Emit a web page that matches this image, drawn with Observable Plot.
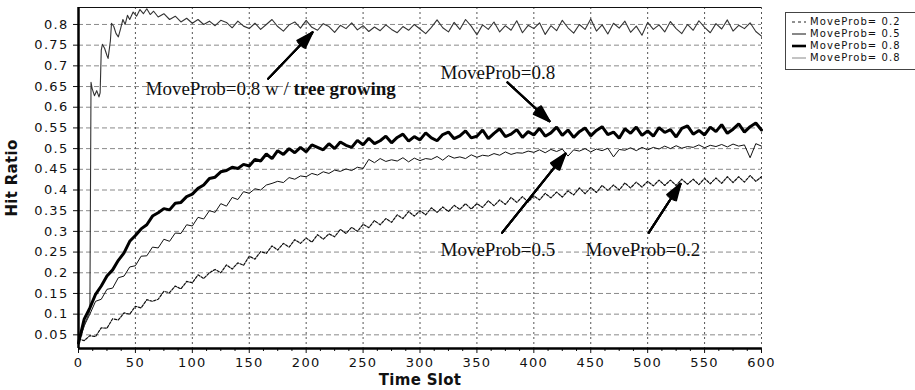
<!DOCTYPE html>
<html><head><meta charset="utf-8">
<script src="https://cdn.jsdelivr.net/npm/d3@7"></script>
<script src="https://cdn.jsdelivr.net/npm/@observablehq/plot@0.6"></script>
<style>
html,body{margin:0;padding:0;background:#fff;overflow:hidden;width:915px;height:390px}
#wrap{position:relative;width:915px;height:390px;overflow:hidden}
#chart svg{display:block}
#chart g[aria-label="x-axis tick label"] text,#chart g[aria-label="y-axis tick label"] text{letter-spacing:1.3px}
#chart g[aria-label="x-axis label"] text,#chart g[aria-label="y-axis label"] text{font-size:15px;font-weight:bold;letter-spacing:0.3px}
#legend{position:absolute;left:785px;top:12px;width:200px;height:56px;border:1px solid #444;background:#fff;font-family:'DejaVu Sans',sans-serif;font-size:10px;letter-spacing:1.1px;color:#111}
#legend .sw{position:absolute;left:5px;width:15px;height:8px}
#legend .lab{position:absolute;left:24px;height:11px;line-height:11px;white-space:nowrap}
</style>
</head><body>
<div id="wrap"><div id="chart"></div><div id="legend"></div></div>
<script>
// ---------- data ----------
const slots = d3.range(0, 601, 5);
const prob02 = [
.040,.036,.048,.046,.067,.066,.089,.086,.103,.100,
.119,.115,.135,.131,.136,.155,.152,.168,.161,.179,
.176,.195,.186,.200,.208,.200,.219,.209,.224,.218,
.240,.233,.251,.247,.265,.255,.271,.262,.280,.271,
.284,.274,.292,.281,.294,.287,.305,.295,.310,.300,
.317,.309,.326,.316,.331,.322,.340,.331,.348,.337,
.350,.340,.357,.346,.359,.348,.363,.353,.367,.354,
.367,.358,.374,.362,.376,.365,.382,.370,.384,.371,
.386,.376,.392,.381,.395,.383,.398,.388,.405,.391,
.406,.394,.411,.399,.412,.400,.417,.405,.419,.407,
.421,.410,.424,.411,.424,.411,.426,.414,.426,.413,
.428,.415,.429,.416,.432,.418,.432,.419,.435,.421,
.432];
const prob05 = [
.030,.072,.100,.131,.136,.160,.163,.188,.192,.214,
.217,.240,.241,.262,.260,.281,.276,.296,.295,.316,
.313,.334,.330,.350,.346,.367,.361,.382,.377,.396,
.392,.403,.400,.412,.416,.421,.418,.430,.426,.434,
.432,.440,.436,.444,.440,.448,.445,.451,.447,.455,
.452,.474,.466,.476,.469,.473,.470,.478,.468,.477,
.471,.476,.474,.481,.472,.483,.477,.480,.476,.485,
.479,.484,.482,.488,.484,.492,.486,.490,.489,.494,
.491,.497,.490,.498,.493,.499,.482,.497,.494,.500,
.492,.499,.495,.501,.480,.498,.496,.502,.495,.503,
.497,.503,.499,.506,.500,.507,.501,.505,.503,.509,
.502,.508,.505,.510,.504,.511,.506,.509,.478,.512,
.506];
const prob08 = [
.030,.088,.115,.148,.168,.192,.207,.230,.248,.276,
.290,.306,.316,.337,.345,.355,.352,.368,.370,.384,
.390,.404,.412,.428,.431,.444,.447,.455,.452,.462,
.458,.474,.470,.487,.476,.495,.486,.500,.490,.503,
.492,.509,.503,.497,.512,.500,.516,.508,.503,.520,
.509,.525,.512,.519,.530,.514,.527,.535,.518,.529,
.521,.538,.526,.519,.534,.540,.524,.531,.543,.526,
.530,.545,.524,.537,.548,.529,.535,.546,.527,.541,
.533,.549,.530,.538,.552,.532,.545,.527,.541,.550,
.531,.544,.553,.534,.540,.525,.548,.537,.552,.532,
.543,.530,.551,.539,.546,.528,.549,.555,.535,.544,
.533,.552,.541,.558,.537,.547,.560,.540,.553,.562,
.545];
const treeSlots = [0,3,6,9,10,11,12,14,16,18,19,20,21,23,25,26,28,29,31,33,35,37,39,41,43,45,48,51,54,57,60,63,66,70,75,80,85,90,95,100,105,110,115,120,125]
  .concat(d3.range(130, 601, 5));
const prob08tree = [
.030,.055,.080,.100,.110,.660,.645,.628,.640,.625,
.635,.738,.752,.742,.725,.718,.760,.803,.795,.778,
.770,.790,.812,.800,.822,.812,.830,.820,.836,.826,
.838,.824,.832,.818,.826,.812,.820,.806,.815,.803,
.812,.800,.808,.797,.810,
.805,.792,.808,.796,.790,.803,.788,.800,.812,.795,
.784,.799,.806,.791,.810,.793,.786,.802,.795,.781,
.798,.790,.804,.787,.797,.783,.794,.785,.799,.788,
.780,.795,.786,.800,.789,.778,.793,.811,.792,.782,
.805,.788,.812,.796,.775,.799,.788,.806,.782,.797,
.786,.809,.780,.798,.790,.804,.776,.797,.785,.810,
.792,.779,.800,.788,.813,.784,.799,.777,.803,.791,
.808,.781,.796,.774,.805,.788,.799,.782,.807,.790,
.778,.800,.786,.809,.793,.780,.802,.789,.811,.784,
.798,.790,.804,.783,.772];

const xTicks = [0,50,100,150,200,250,300,350,400,450,500,550,600];
const yTicks = [0.05,0.1,0.15,0.2,0.25,0.3,0.35,0.4,0.45,0.5,0.55,0.6,0.65,0.7,0.75,0.8];
const legendLabels = ["MoveProb= 0.2","MoveProb= 0.5","MoveProb= 0.8","MoveProb= 0.8"];

// annotations (data coordinates)
const annText = ["MoveProb=0.8 w / ", "MoveProb=0.8", "MoveProb=0.5", "MoveProb=0.2"];
const annX = [58.9, 318, 318, 445.4];
const annY = [0.645, 0.682, 0.256, 0.256];
const annBold = ["tree growing"];
const annBoldX = [188.9];
const annBoldY = [0.645];
const arrX1 = [166.7, 376.9, 372.2, 501.0];
const arrY1 = [0.669, 0.660, 0.297, 0.297];
const arrX2 = [205.6, 413.8, 427.8, 528.9];
const arrY2 = [0.781, 0.566, 0.488, 0.415];

// ---------- build ----------
const yDomain = [0.017, 0.841];
const s02 = slots.map((s,i)=>({slot:s, v:prob02[i]}));
const s05 = slots.map((s,i)=>({slot:s, v:prob05[i]}));
const s08 = slots.map((s,i)=>({slot:s, v:prob08[i]}));
const s08t = treeSlots.map((s,i)=>({slot:s, v:prob08tree[i]}));
const minor = d3.range(0, 601, 12.5).filter(d => d % 50 !== 0);
const ann = annText.map((t,i)=>({t, x:annX[i], y:annY[i]}));
const annB = annBold.map((t,i)=>({t, x:annBoldX[i], y:annBoldY[i]}));
const arrows = arrX1.map((d,i)=>({x1:arrX1[i], y1:arrY1[i], x2:arrX2[i], y2:arrY2[i]}));
const serif = "'Liberation Serif','Times New Roman',serif";

const arrowMarks = [36, 26, 16, 6].map(a => Plot.arrow(arrows, {x1:"x1", y1:"y1", x2:"x2", y2:"y2", stroke:"#000", strokeWidth:2, headLength:13, headAngle:a}));

const chart = Plot.plot({
  width: 915, height: 390,
  marginLeft: 78, marginRight: 154, marginTop: 7, marginBottom: 42,
  x: {domain: [0, 600]},
  y: {domain: yDomain},
  style: {fontFamily: "'DejaVu Sans',sans-serif", fontSize: "13px", color: "#111", background: "white"},
  marks: [
    Plot.gridY(yTicks, {stroke: "#8a8a8a", strokeOpacity: 1, strokeDasharray: "5,3"}),
    Plot.gridX(xTicks.filter(d => d > 0), {stroke: "#555", strokeOpacity: 1, strokeDasharray: "2,3"}),
    Plot.ruleY([yDomain[1]], {stroke: "#111", strokeWidth: 1}),
    Plot.line(s02, {x: "slot", y: "v", stroke: "#111", strokeWidth: 1.2, strokeDasharray: "2.5,1.5"}),
    Plot.line(s05, {x: "slot", y: "v", stroke: "#111", strokeWidth: 1}),
    Plot.line(s08t, {x: "slot", y: "v", stroke: "#333", strokeWidth: 1.1}),
    Plot.line(s08, {x: "slot", y: "v", stroke: "#000", strokeWidth: 3, strokeLinejoin: "miter"}),
    Plot.axisY(yTicks, {tickSize: 5, tickPadding: 5, tickFormat: d3.format("~g"), label: "Hit Ratio", labelAnchor: "center", labelOffset: 72, labelArrow: false}),
    Plot.axisX(xTicks, {tickSize: 5, tickPadding: 4, label: "Time Slot", labelAnchor: "center", labelOffset: 36, labelArrow: false}),
    Plot.axisX(minor, {tickSize: 3, tickFormat: () => "", label: null}),
    Plot.ruleX([0], {stroke: "#000", strokeWidth: 2.5}),
    Plot.ruleY([yDomain[0]], {stroke: "#000", strokeWidth: 2.5}),
    ...arrowMarks,
    Plot.text(ann, {x: "x", y: "y", text: "t", textAnchor: "start", lineAnchor: "middle", fontFamily: serif, fontSize: 19, fill: "#111"}),
    Plot.text(annB, {x: "x", y: "y", text: "t", textAnchor: "start", lineAnchor: "middle", fontFamily: serif, fontSize: 19, fontWeight: "bold", fill: "#111"})
  ]
});
document.getElementById("chart").appendChild(chart);

// legend
const styles = [
  {w: 1, dash: "3,3", c: "#222"},
  {w: 1, dash: null, c: "#111"},
  {w: 2.6, dash: null, c: "#000"},
  {w: 1, dash: null, c: "#888"}
];
const leg = d3.select("#legend");
legendLabels.forEach((lab, i) => {
  const top = 3 + i * 12;
  const sv = leg.append("svg").attr("class", "sw").style("top", (top + 1.5) + "px").attr("width", 15).attr("height", 8);
  const ln = sv.append("line").attr("x1", 1).attr("x2", 15).attr("y1", 4).attr("y2", 4)
    .attr("stroke", styles[i].c).attr("stroke-width", styles[i].w);
  if (styles[i].dash) ln.attr("stroke-dasharray", styles[i].dash);
  leg.append("div").attr("class", "lab").style("top", top + "px").text(lab);
});
</script>
</body></html>
